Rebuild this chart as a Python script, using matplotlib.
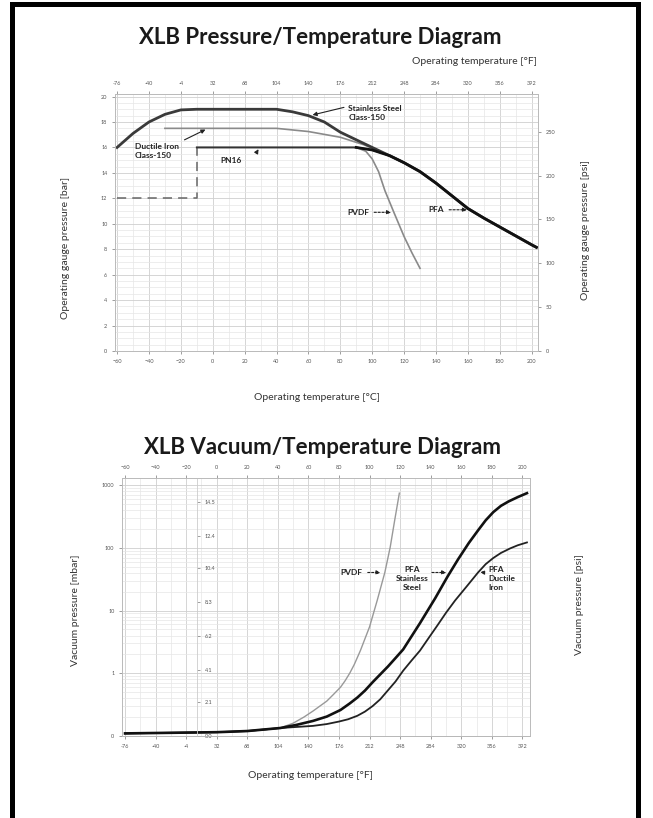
import numpy as np
import matplotlib.pyplot as plt
from matplotlib.patches import Rectangle
from matplotlib.ticker import MultipleLocator, LogLocator, NullFormatter

plt.rcParams['font.family'] = ['Lato', 'DejaVu Sans']

# ---- pressure / temperature diagram (degC, bar)
c_ticks = [-60, -40, -20, 0, 20, 40, 60, 80, 100, 120, 140, 160, 180, 200]
f_labels = ['-76', '-40', '-4', '32', '68', '104', '140', '176', '212', '248', '284', '320', '356', '392']
bar_ticks = [0, 2, 4, 6, 8, 10, 12, 14, 16, 18, 20]
psi_ticks = [0, 50, 100, 150, 200, 250]

ss_t = [-60, -50, -40, -30, -20, -10, 40, 50, 60, 70, 80, 90, 100, 111, 120, 130, 140, 150, 160, 170, 180, 190, 200, 203]
ss_p = [16.0, 17.1, 18.0, 18.6, 18.95, 19.0, 19.0, 18.8, 18.5, 18.0, 17.2, 16.6, 16.0, 15.35, 14.8, 14.1, 13.2, 12.2, 11.2, 10.45, 9.75, 9.05, 8.35, 8.15]
di_t = [-30, 40, 60, 80, 95, 111, 120]
di_p = [17.5, 17.5, 17.25, 16.8, 16.2, 15.35, 14.8]
pn_t = [-10, 90, 100, 111, 120]
pn_p = [16.0, 16.0, 15.8, 15.35, 14.8]
pn_low_t = [-60, -10, -10]
pn_low_p = [12.0, 12.0, 16.0]
pfa_t = [90, 100, 111, 120, 130, 140, 150, 160, 170, 180, 190, 200, 203]
pfa_p = [16.0, 15.8, 15.35, 14.8, 14.1, 13.2, 12.2, 11.2, 10.45, 9.75, 9.05, 8.35, 8.15]
pvdf_t = [-10, 90, 96, 100, 104, 108, 113.6, 120, 125, 130]
pvdf_p = [16.0, 16.0, 15.7, 15.1, 14.1, 12.6, 10.9, 9.0, 7.7, 6.5]

# ---- vacuum / temperature diagram (degC, mbar)
mbar_ticks = [0.1, 1, 10, 100, 1000]
mbar_labels = ['0', '1', '10', '100', '1000']
vpsi_ticks = [0.0, 2.1, 4.1, 6.2, 8.3, 10.4, 12.4, 14.5]

v_pvdf_t = [-60, 0, 20, 30, 41.5, 50, 57, 63, 72, 76, 81, 84, 87, 90, 94, 100, 105, 110, 113.5, 116.5, 119.5]
v_pvdf = [0.11, 0.115, 0.12, 0.125, 0.134, 0.16, 0.2, 0.25, 0.36, 0.45, 0.6, 0.76, 1.0, 1.38, 2.3, 5.5, 14.5, 40.5, 102, 280, 745]
v_ss_t = [-60, 0, 20, 41.5, 52, 63, 72, 81, 87, 92, 97, 102, 107, 112, 117, 122, 133, 143, 151, 158, 165, 171, 176, 181, 186, 191, 197, 203]
v_ss = [0.11, 0.115, 0.12, 0.134, 0.15, 0.174, 0.204, 0.26, 0.33, 0.41, 0.53, 0.72, 0.96, 1.28, 1.75, 2.4, 6.3, 15.8, 34.7, 66, 120, 190, 275, 372, 468, 550, 645, 745]
v_di_t = [-60, 0, 20, 41.5, 63, 72, 80, 86, 92, 97, 102, 107, 111.6, 117, 122, 127.5, 133, 138.5, 144.3, 150, 156, 164, 171, 176, 181, 186, 192, 197, 203]
v_di = [0.11, 0.115, 0.12, 0.134, 0.145, 0.155, 0.17, 0.185, 0.21, 0.245, 0.3, 0.385, 0.52, 0.74, 1.1, 1.6, 2.3, 3.6, 5.75, 9.2, 14.5, 25, 40.5, 55, 69, 83, 98, 110, 122]

W, H = 653, 818
fig = plt.figure(figsize=(W / 100, H / 100), dpi=100)

def box(l, t, r, b):
    return [l / W, 1 - b / H, (r - l) / W, (b - t) / H]

tick_kw = dict(labelsize=4, colors='#777777', labelcolor='#555555', length=2, width=0.5)
grid_major = '#cfcfcf'
grid_minor = '#e6e6e6'

def style(ax):
    for s in ax.spines.values():
        s.set_color('#bbbbbb')
        s.set_linewidth(0.6)
        s.set_linestyle((0, (2, 1)))

# ================= top chart
ax1 = fig.add_axes(box(115, 94, 538, 351))
ax1.set_xlim(-61.3, 204)
ax1.set_ylim(0, 20.2)
ax1.set_xticks(c_ticks)
ax1.set_yticks(bar_ticks)
ax1.xaxis.set_minor_locator(MultipleLocator(10))
ax1.yaxis.set_minor_locator(MultipleLocator(0.5))
ax1.grid(which='major', color=grid_major, lw=0.6)
ax1.grid(which='minor', color=grid_minor, lw=0.5)
ax1.tick_params(which='both', **tick_kw)
ax1.tick_params(which='minor', length=0)
style(ax1)

ax1.plot(di_t, di_p, color='#8a8a8a', lw=1.2, zorder=3)
ax1.plot(pvdf_t, pvdf_p, color='#8a8a8a', lw=1.2, zorder=3)
ax1.plot(pn_low_t, pn_low_p, color='#666666', lw=1.1, ls=(0, (6, 4)), zorder=3)
ax1.plot(pn_t, pn_p, color='#333333', lw=1.3, zorder=4)
ax1.plot(ss_t, ss_p, color='#3a3a3a', lw=2.0, zorder=4)
ax1.plot(pfa_t, pfa_p, color='#111111', lw=2.0, zorder=5)

ax1t = ax1.twiny()
ax1t.set_xlim(ax1.get_xlim())
ax1t.set_xticks(c_ticks)
ax1t.set_xticklabels(f_labels)
ax1t.tick_params(**tick_kw)
style(ax1t)

ax1r = ax1.twinx()
ax1r.set_ylim(0, 20.2 * 14.5038)
ax1r.set_yticks(psi_ticks)
ax1r.tick_params(**tick_kw)
style(ax1r)

lab = dict(fontsize=6, fontweight='bold', color='#222222')
arr = dict(arrowstyle='-|>', color='#222222', lw=0.8, mutation_scale=6)
darr = dict(arrowstyle='-|>', color='#222222', lw=0.8, mutation_scale=6, linestyle=(0, (2, 1.5)))
ax1.annotate('', xy=(60.9, 18.5), xytext=(84, 19.2), arrowprops=arr, zorder=6)
ax1.text(85, 18.7, 'Stainless Steel\nClass-150', va='center', ha='left', linespacing=1.3, **lab)
ax1.annotate('', xy=(-3, 17.5), xytext=(-19.3, 16.5), arrowprops=arr, zorder=6)
ax1.text(-48.7, 15.7, 'Ductile Iron\nClass-150', va='center', ha='left', linespacing=1.3, **lab)
ax1.annotate('', xy=(29.6, 16.05), xytext=(26.5, 15.4), arrowprops=arr, zorder=6)
ax1.text(4.5, 15.0, 'PN16', va='center', ha='left', **lab)
ax1.annotate('', xy=(113.6, 10.9), xytext=(99.5, 10.9), arrowprops=darr, zorder=6)
ax1.text(98, 10.9, 'PVDF', va='center', ha='right', **lab)
ax1.annotate('', xy=(161.2, 11.1), xytext=(146.5, 11.1), arrowprops=darr, zorder=6)
ax1.text(145, 11.1, 'PFA', va='center', ha='right', **lab)

fig.text(320 / W, 1 - 37 / H, 'XLB Pressure/Temperature Diagram', ha='center', va='center',
         fontsize=16, fontweight='bold', color='#1a1a1a')
fig.text(537 / W, 1 - 62 / H, 'Operating temperature [\u00b0F]', ha='right', va='center', fontsize=7.5, color='#333333')
fig.text(317 / W, 1 - 398 / H, 'Operating temperature [\u00b0C]', ha='center', va='center', fontsize=7.5, color='#333333')
fig.text(66 / W, 1 - 248 / H, 'Operating gauge pressure [bar]', ha='center', va='center', rotation=90,
         fontsize=7.5, color='#333333')
fig.text(585 / W, 1 - 230 / H, 'Operating gauge pressure [psi]', ha='center', va='center', rotation=90,
         fontsize=7.5, color='#333333')

# ================= bottom chart
ax2 = fig.add_axes(box(122, 478, 530, 736))
ax2.set_xlim(-62, 205)
ax2.set_yscale('log')
ax2.set_ylim(0.1, 1300)
ax2.set_xticks(c_ticks)
ax2.set_xticklabels(f_labels)
ax2.set_yticks(mbar_ticks)
ax2.set_yticklabels(mbar_labels)
ax2.xaxis.set_minor_locator(MultipleLocator(10))
ax2.yaxis.set_minor_locator(LogLocator(base=10, subs=np.arange(2, 10)))
ax2.yaxis.set_minor_formatter(NullFormatter())
ax2.grid(which='major', color=grid_major, lw=0.6)
ax2.grid(which='minor', color=grid_minor, lw=0.5)
ax2.tick_params(which='both', **tick_kw)
ax2.tick_params(which='minor', length=0)
style(ax2)
ax2.spines['bottom'].set_color('#555555')
ax2.spines['bottom'].set_linestyle('-')

ax2.plot(v_pvdf_t, v_pvdf, color='#999999', lw=1.0, zorder=3)
ax2.plot(v_di_t, v_di, color='#222222', lw=1.3, zorder=4)
ax2.plot(v_ss_t, v_ss, color='#111111', lw=1.9, zorder=5)

ax2t = ax2.twiny()
ax2t.set_xlim(ax2.get_xlim())
ax2t.set_xticks(c_ticks)
ax2t.tick_params(**tick_kw)
style(ax2t)

ax2p = ax2.twinx()
ax2p.set_ylim(0, 16.0)
ax2p.set_yticks(vpsi_ticks)
ax2p.set_yticklabels(['%.1f' % v for v in vpsi_ticks])
ax2p.spines['right'].set_position(('axes', 0.184))
ax2p.tick_params(**tick_kw)
style(ax2p)
ax2p.spines['right'].set_color('#cccccc')

ax2.annotate('', xy=(109, 40.5), xytext=(97, 40.5), arrowprops=darr, zorder=6)
ax2.text(95.5, 40.5, 'PVDF', va='center', ha='right', **lab)
ax2.annotate('', xy=(152, 40.5), xytext=(139, 40.5), arrowprops=darr, zorder=6)
ax2.text(127.6, 52, 'PFA\nStainless\nSteel', va='top', ha='center', linespacing=1.35, **lab)
ax2.annotate('', xy=(170.5, 40.5), xytext=(177, 40.5), arrowprops=darr, zorder=6)
ax2.text(178, 52, 'PFA\nDuctile\nIron', va='top', ha='left', linespacing=1.35, **lab)

fig.text(323 / W, 1 - 448 / H, 'XLB Vacuum/Temperature Diagram', ha='center', va='center',
         fontsize=16, fontweight='bold', color='#1a1a1a')
fig.text(310 / W, 1 - 775 / H, 'Operating temperature [\u00b0F]', ha='center', va='center', fontsize=7.5, color='#333333')
fig.text(76 / W, 1 - 610 / H, 'Vacuum pressure [mbar]', ha='center', va='center', rotation=90,
         fontsize=7.5, color='#333333')
fig.text(580 / W, 1 - 605 / H, 'Vacuum pressure [psi]', ha='center', va='center', rotation=90,
         fontsize=7.5, color='#333333')

# outer frame
fig.patches.append(Rectangle((12.5 / W, -0.05), (638 - 12.5) / W, 1.05 - 4.5 / H,
                             transform=fig.transFigure, fill=False, ec='black', lw=3.6))

fig.savefig('out.png', dpi=100)
